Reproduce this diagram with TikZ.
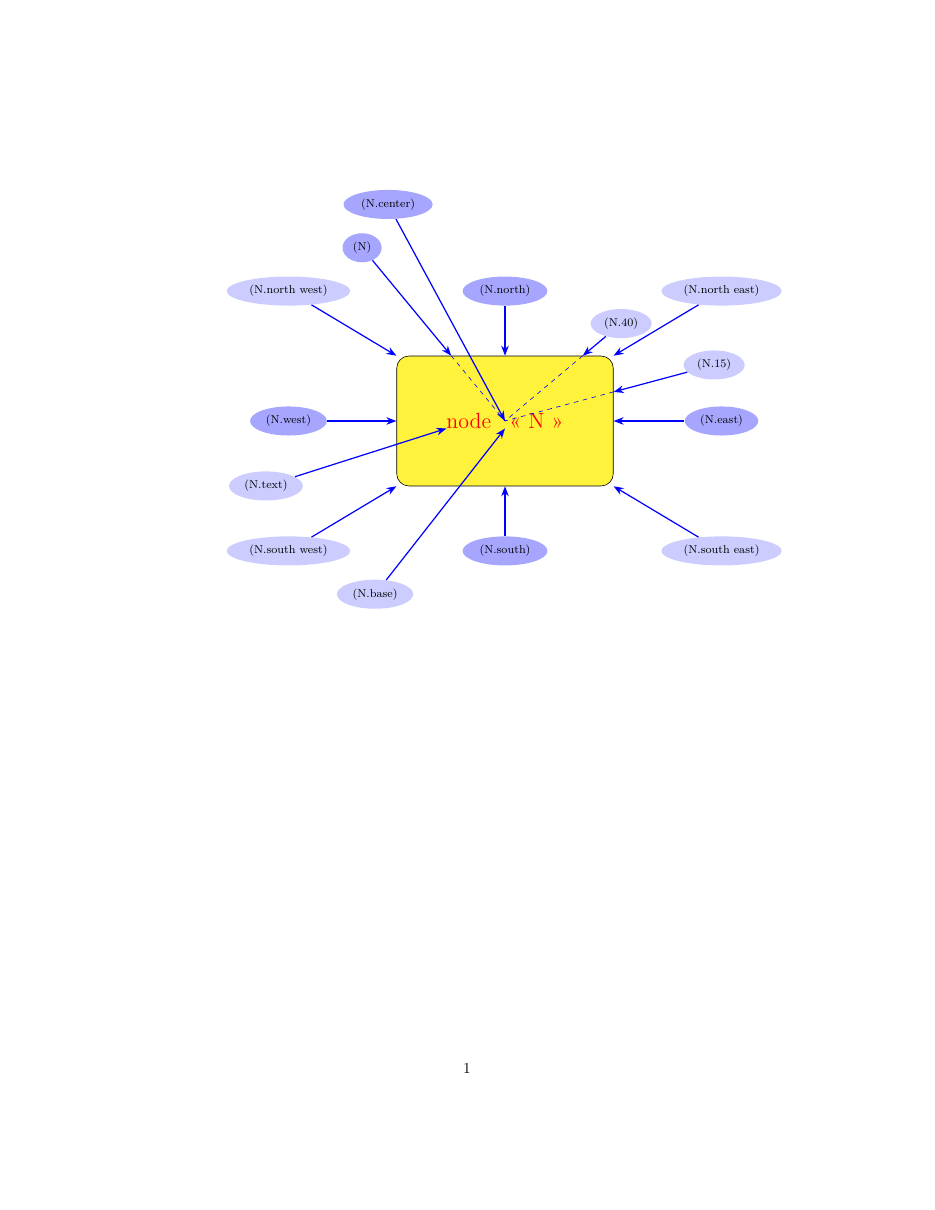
\documentclass[tikz,border=0pt]{standalone}
\usepackage{tikz}
\usetikzlibrary{shapes,arrows,positioning,calc,arrows.meta}
\definecolor{nodeyellow}{RGB}{255,242,60}
\tikzset{
    anchordark/.style={ellipse, fill=blue!35, inner sep=3pt, font=\fontsize{7.5}{9}\selectfont},
    anchorlight/.style={ellipse, fill=blue!20, inner sep=3pt, font=\fontsize{7.5}{9}\selectfont},
    toanchor/.style={-Stealth, thick, blue},
}

\begin{document}
\begin{tikzpicture}
    \useasboundingbox (-11.661,-18.219) rectangle (9.929,9.721);

    % The node
    \node[draw, fill=nodeyellow, rounded corners=8pt, minimum width=5cm, minimum height=3cm,
          text=red, font=\Large] (N) at (0,0) {node\enspace\ « N »};

    % Labels
    \node[anchordark] (lcenter) at (-2.7,5) {(N.center)};
    \node[anchordark] (lN) at (-3.3,4) {(N)};
    \node[anchorlight] (lnw) at (-5,3) {(N.north west)};
    \node[anchordark] (lnorth) at (0,3) {(N.north)};
    \node[anchorlight] (lne) at (5,3) {(N.north east)};
    \node[anchorlight] (l40) at (40:3.5) {(N.40)};
    \node[anchorlight] (l15) at (15:5) {(N.15)};
    \node[anchordark] (lwest) at (-5,0) {(N.west)};
    \node[anchordark] (least) at (5,0) {(N.east)};
    \node[anchorlight] (ltext) at (-5.52,-1.5) {(N.text)};
    \node[anchorlight] (lsw) at (-5,-3) {(N.south west)};
    \node[anchordark] (lsouth) at (0,-3) {(N.south)};
    \node[anchorlight] (lse) at (5,-3) {(N.south east)};
    \node[anchorlight] (lbase) at (-3,-4) {(N.base)};

    % Arrows
    \draw[toanchor] (lN) -- (N) coordinate[pos=1] (Nhit);
    \draw[blue, dashed] (Nhit) -- (N.center);
    \draw[blue, dashed] (N.40) -- (N.center);
    \draw[blue, dashed] (N.15) -- (N.center);
    \draw[toanchor] (lcenter) -- (N.center);
    \draw[toanchor] (lnw) -- (N.north west);
    \draw[toanchor] (lnorth) -- (N.north);
    \draw[toanchor] (lne) -- (N.north east);
    \draw[toanchor] (l40) -- (N.40);
    \draw[toanchor] (l15) -- (N.15);
    \draw[toanchor] (lwest) -- (N.west);
    \draw[toanchor] (least) -- (N.east);
    \draw[toanchor] (ltext) -- (N.text);
    \draw[toanchor] (lsw) -- (N.south west);
    \draw[toanchor] (lsouth) -- (N.south);
    \draw[toanchor] (lse) -- (N.south east);
    \draw[toanchor] (lbase) -- (N.base);

    % Page number
    \node (pagenum) at (-0.878,-14.94) {1};
\end{tikzpicture}
\end{document}
